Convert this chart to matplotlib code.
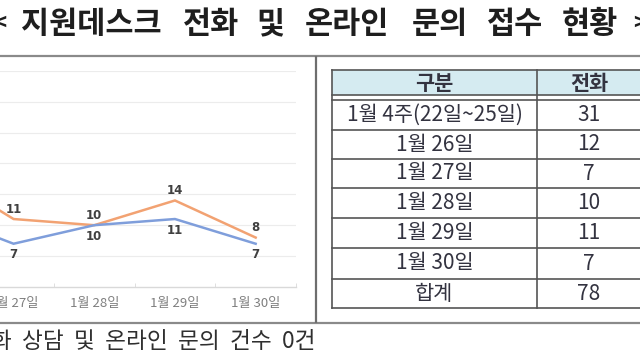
import matplotlib
matplotlib.use("Agg")
import matplotlib.pyplot as plt
import numpy as np

plt.rcParams['font.family'] = ['Noto Sans CJK KR', 'DejaVu Sans']

# ---------------- data ----------------
chart_categories = ["1월 4주", "1월 26일", "1월 27일", "1월 28일", "1월 29일", "1월 30일"]
phone_calls = [31, 12, 7, 10, 11, 7]        # 전화 (blue)
online_inquiries = [22, 19, 11, 10, 14, 8]  # 온라인 (orange)

table_header = ["구분", "전화"]
table_rows = ["1월 4주(22일~25일)", "1월 26일", "1월 27일", "1월 28일", "1월 29일", "1월 30일"]
table_total_label = "합계"

title_words = ["지원데스크", "전화", "및", "온라인", "문의", "접수", "현황"]
footnote_words = ["전화", "상담", "및", "온라인", "문의", "건수", "0건"]

# ---------------- figure ----------------
W, H = 640, 360
fig = plt.figure(figsize=(6.4, 3.6), dpi=100)
fig.patch.set_facecolor("white")


def rect(x0, y0, x1, y1):
    return [x0 / W, 1 - y1 / H, (x1 - x0) / W, (y1 - y0) / H]


# chart axes (left part is cut off by the page crop)
band = 80.7
ax_right = 296
ax_left = ax_right - band * len(chart_categories)
ax = fig.add_axes(rect(ax_left, 70.7, ax_right, 287))
x = np.arange(len(chart_categories))
blue = "#7F9EDB"
orange = "#F2A272"
ax.plot(x, online_inquiries, color=orange, lw=1.8, solid_joinstyle="miter", zorder=3)
ax.plot(x, phone_calls, color=blue, lw=1.8, solid_joinstyle="miter", zorder=3)
visible_from = 2  # earlier categories lie outside the cropped page
for xi, v in list(zip(x, online_inquiries))[visible_from:]:
    ax.annotate(str(v), (xi, v), xytext=(0, 7), textcoords="offset points",
                ha="center", va="center", fontsize=8.5, fontweight="bold",
                color="#404040", family="DejaVu Sans")
for xi, v in list(zip(x, phone_calls))[visible_from:]:
    ax.annotate(str(v), (xi, v), xytext=(0, -8), textcoords="offset points",
                ha="center", va="center", fontsize=8.5, fontweight="bold",
                color="#404040", family="DejaVu Sans")
ax.set_xlim(-0.5, len(chart_categories) - 0.5)
ax.set_ylim(0, 35)
ax.set_yticks(np.arange(5, 36, 5))
ax.yaxis.grid(True, color="#ececec", lw=0.8)
ax.set_axisbelow(True)
ax.tick_params(axis="y", length=0, labelleft=False)
ax.set_xticks(x)
ax.set_xticklabels(chart_categories, fontsize=9.5, color="#7f7f7f")
ax.tick_params(axis="x", length=0, pad=7)
ax.set_xticks(np.arange(-0.5, len(chart_categories), 1), minor=True)
ax.tick_params(axis="x", which="minor", length=3, direction="in", color="#d9d9d9")
for s in ["top", "left", "right"]:
    ax.spines[s].set_visible(False)
ax.spines["bottom"].set_color("#d9d9d9")
ax.spines["bottom"].set_linewidth(1.0)
ax.patch.set_alpha(0)

# overlay axes in pixel coordinates
ov = fig.add_axes([0, 0, 1, 1])
ov.set_xlim(0, W)
ov.set_ylim(H, 0)
ov.axis("off")
ov.patch.set_alpha(0)

# title
title_x = [91.5, 211.5, 270, 347, 440, 515, 590]
for w, cx in zip(title_words, title_x):
    ov.text(cx, 24, w, ha="center", va="center", fontsize=22,
            fontweight="bold", color="#1e1e1e")
ov.text(6, 23, "<", ha="right", va="center", fontsize=16, fontweight="bold", color="#1e1e1e")
ov.text(633, 23, ">", ha="left", va="center", fontsize=16, fontweight="bold", color="#1e1e1e")

# panel borders
border_c = "#8a8a8a"
ov.plot([0, W], [56, 56], color=border_c, lw=1.6, solid_capstyle="butt")
ov.plot([0, W], [322.5, 322.5], color=border_c, lw=1.6, solid_capstyle="butt")
ov.plot([316, 316], [56, 322.5], color="#6e6e6e", lw=1.6, solid_capstyle="butt")

# table
tx0, tx1, tx2 = 332, 537, 641
line_c = "#555555"
row_lines = [100, 130, 159, 188, 218, 248, 279, 308]
ov.add_patch(plt.Rectangle((tx0, 70), tx2 - tx0, 25, facecolor="#D5EBF1",
                           edgecolor="none", zorder=1))
ov.plot([tx0, tx2], [70, 70], color=line_c, lw=1.2, zorder=2)
ov.plot([tx0, tx2], [95, 95], color=line_c, lw=1.2, zorder=2)
for yl in row_lines:
    ov.plot([tx0, tx2], [yl, yl], color=line_c, lw=1.2, zorder=2)
ov.plot([tx0, tx0], [70, 308], color=line_c, lw=1.2, zorder=2)
ov.plot([tx1, tx1], [70, 308], color=line_c, lw=1.2, zorder=2)

c1 = (tx0 + tx1) / 2
c2 = (tx1 + tx2) / 2
txt_c = "#333340"
ov.text(c1, 83, table_header[0], ha="center", va="center", fontsize=15,
        fontweight="bold", color=txt_c)
ov.text(c2, 83, table_header[1], ha="center", va="center", fontsize=15,
        fontweight="bold", color=txt_c)
labels = table_rows + [table_total_label]
values = phone_calls + [sum(phone_calls)]
for i, (lab, val) in enumerate(zip(labels, values)):
    yc = (row_lines[i] + row_lines[i + 1]) / 2
    ov.text(c1, yc, lab, ha="center", va="center", fontsize=15, color=txt_c)
    ov.text(c2, yc, str(val), ha="center", va="center", fontsize=15, color=txt_c)

# footnote (its start is cut off by the page crop)
ov.text(315, 342, "  ".join(footnote_words), ha="right", va="center",
        fontsize=16.3, color="#2f2f2f")

fig.savefig("out.png", dpi=100)
